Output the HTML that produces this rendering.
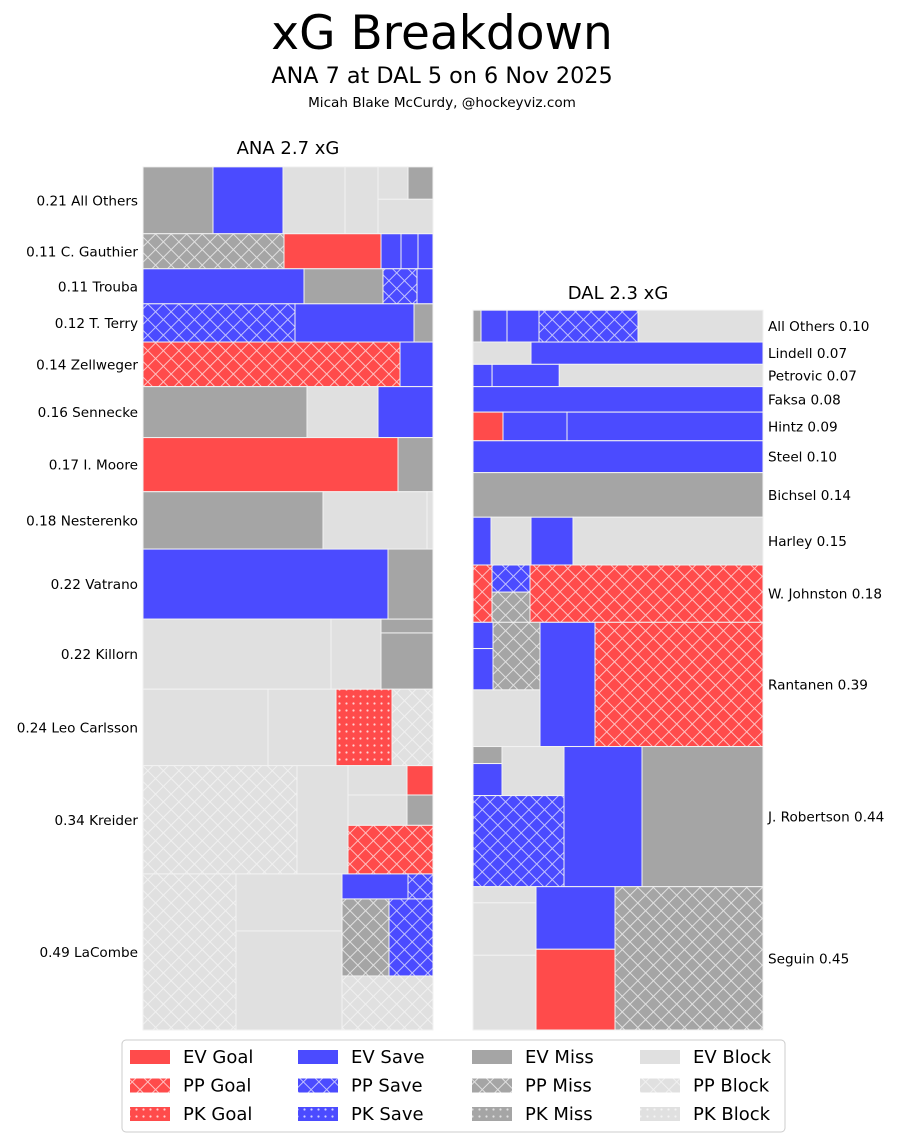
<!DOCTYPE html>
<html><head><meta charset="utf-8">
<style>
body{margin:0;background:#fff;}
svg text{font-family:"DejaVu Sans","Liberation Sans",sans-serif;fill:#000;}
</style></head>
<body>
<svg id="chart" width="900" height="1142" viewBox="0 0 900 1142" xmlns="http://www.w3.org/2000/svg">
<defs>
  <pattern id="hatch-r" width="11" height="11" patternUnits="userSpaceOnUse" patternTransform="rotate(45)"><rect width="11" height="11" fill="#ff4b4b"/><path d="M0 0V11M0 0H11" stroke="#ffc0c0" stroke-width="2"/></pattern>
  <pattern id="hatch-b" width="11" height="11" patternUnits="userSpaceOnUse" patternTransform="rotate(45)"><rect width="11" height="11" fill="#4b4bff"/><path d="M0 0V11M0 0H11" stroke="#c0c0ff" stroke-width="2"/></pattern>
  <pattern id="hatch-m" width="11" height="11" patternUnits="userSpaceOnUse" patternTransform="rotate(45)"><rect width="11" height="11" fill="#a5a5a5"/><path d="M0 0V11M0 0H11" stroke="#e0e0e0" stroke-width="2"/></pattern>
  <pattern id="hatch-l" width="11" height="11" patternUnits="userSpaceOnUse" patternTransform="rotate(45)"><rect width="11" height="11" fill="#e0e0e0"/><path d="M0 0V11M0 0H11" stroke="#f0f0f0" stroke-width="2"/></pattern>
  <pattern id="dot-r" width="7" height="7" patternUnits="userSpaceOnUse"><rect width="7" height="7" fill="#ff4b4b"/><circle cx="3.5" cy="3.5" r="1.1" fill="#ffd0d0"/></pattern>
  <pattern id="dot-b" width="7" height="7" patternUnits="userSpaceOnUse"><rect width="7" height="7" fill="#4b4bff"/><circle cx="3.5" cy="3.5" r="1.1" fill="#d0d0ff"/></pattern>
  <pattern id="dot-m" width="7" height="7" patternUnits="userSpaceOnUse"><rect width="7" height="7" fill="#a5a5a5"/><circle cx="3.5" cy="3.5" r="1.1" fill="#e0e0e0"/></pattern>
  <pattern id="dot-l" width="7" height="7" patternUnits="userSpaceOnUse"><rect width="7" height="7" fill="#e0e0e0"/><circle cx="3.5" cy="3.5" r="1.1" fill="#f4f4f4"/></pattern>
</defs>
<text x="442" y="49" font-size="47" text-anchor="middle">xG Breakdown</text>
<text x="442" y="83" font-size="22.3" text-anchor="middle">ANA 7 at DAL 5 on 6 Nov 2025</text>
<text x="442" y="107" font-size="13.6" text-anchor="middle">Micah Blake McCurdy, @hockeyviz.com</text>
<text x="288" y="154" font-size="18" text-anchor="middle">ANA 2.7 xG</text>
<text x="618" y="299" font-size="18" text-anchor="middle">DAL 2.3 xG</text>
<g id="ana"></g><g id="dal"></g>
<g id="legend"></g>
</svg>
<script>
// ANA data
const anaPlayers = ["All Others","C. Gauthier","Trouba","T. Terry","Zellweger","Sennecke","I. Moore","Nesterenko","Vatrano","Killorn","Leo Carlsson","Kreider","LaCombe"];
const anaXG = [0.21,0.11,0.11,0.12,0.14,0.16,0.17,0.18,0.22,0.22,0.24,0.34,0.49];
const anaCells = [
 ['h',[70,'EM'],[70,'ES'],[62,'EB'],[33,'EB'],[55,['v',[32,['h',[30,'EB'],[25,'EM']]],[34,'EB']]]],
 ['h',[141,'PM'],[97,'EG'],[20,'ES'],[17,'ES'],[15,'ES']],
 ['h',[161,'ES'],[79,'EM'],[34,'PS'],[16,'ES']],
 ['h',[152,'PS'],[119,'ES'],[19,'EM']],
 ['h',[257,'PG'],[33,'ES']],
 ['h',[164,'EM'],[71,'EB'],[55,'ES']],
 ['h',[255,'EG'],[35,'EM']],
 ['h',[180,'EM'],[104,'EB'],[6,'EB']],
 ['h',[245,'ES'],[45,'EM']],
 ['h',[188,'EB'],[50,'EB'],[52,['v',[14,'EM'],[57,'EM']]]],
 ['h',[125,'EB'],[68,'EB'],[56,'KG'],[41,'PB']],
 ['h',[154,'PB'],[51,'EB'],[85,['v',[29,['h',[59,'EB'],[26,'EG']]],[30,['h',[59,'EB'],[26,'EM']]],[48,'PG']]]],
 ['h',[93,'PB'],[106,['v',[57,'EB'],[99,'EB']]],[91,['v',[25,['h',[66,'ES'],[25,'PS']]],[77,['h',[47,'PM'],[44,'PS']]],[54,'PB']]]]
];
// DAL data
const dalPlayers = ["All Others","Lindell","Petrovic","Faksa","Hintz","Steel","Bichsel","Harley","W. Johnston","Rantanen","J. Robertson","Seguin"];
const dalXG = [0.10,0.07,0.07,0.08,0.09,0.10,0.14,0.15,0.18,0.39,0.44,0.45];
const dalCells = [
 ['h',[8,'EM'],[26,'ES'],[32,'ES'],[99,'PS'],[125,'EB']],
 ['h',[58,'EB'],[232,'ES']],
 ['h',[19,'ES'],[67,'ES'],[203,'EB']],
 ['h',[290,'ES']],
 ['h',[30,'EG'],[64,'ES'],[196,'ES']],
 ['h',[290,'ES']],
 ['h',[290,'EM']],
 ['h',[18,'ES'],[40,'EB'],[42,'ES'],[190,'EB']],
 ['h',[19,'PG'],[38,['v',[27,'PS'],[30,'PM']]],[233,'PG']],
 ['h',[67,['v',[68,['h',[20,['v',[26,'ES'],[41,'ES']]],[47,'PM']]],[57,'EB']]],[55,'ES'],[168,'PG']],
 ['h',[91,['v',[49,['h',[29,['v',[17,'EM'],[32,'ES']]],[62,'EB']]],[91,'PS']]],[78,'ES'],[121,'EM']],
 ['h',[63,['v',[16,'EB'],[52,'EB'],[74,'EB']]],[79,['v',[62,'ES'],[80,'EG']]],[148,'PM']]
];

const NS='http://www.w3.org/2000/svg';
const FILL={EG:'#ff4b4b',ES:'#4b4bff',EM:'#a5a5a5',EB:'#e0e0e0',
 PG:'url(#hatch-r)',PS:'url(#hatch-b)',PM:'url(#hatch-m)',PB:'url(#hatch-l)',
 KG:'url(#dot-r)',KS:'url(#dot-b)',KM:'url(#dot-m)',KB:'url(#dot-l)'};
const TNAME={EG:'ev-goal',ES:'ev-save',EM:'ev-miss',EB:'ev-block',PG:'pp-goal',PS:'pp-save',PM:'pp-miss',PB:'pp-block',KG:'pk-goal',KS:'pk-save',KM:'pk-miss',KB:'pk-block'};
const SCALE=318.5, BOTTOM=1030, PW=290;

function layout(g,node,x,y,w,h){
  if(typeof node==='string'){
    const r=document.createElementNS(NS,'rect');
    r.setAttribute('x',x);r.setAttribute('y',y);r.setAttribute('width',w);r.setAttribute('height',h);
    r.setAttribute('fill',FILL[node]);r.setAttribute('stroke','#f2f2f2');r.setAttribute('stroke-width','1');
    
    
    g.appendChild(r);return;
  }
  const dir=node[0],kids=node.slice(1);
  const tot=kids.reduce((s,k)=>s+k[0],0);
  let o=0;
  kids.forEach(k=>{
    const f=k[0]/tot;
    if(dir==='h') layout(g,k[1],x+o*w,y,f*w,h); else layout(g,k[1],x,y+o*h,w,f*h);
    o+=f;
  });
}
function panel(id,players,xg,cells,x0,left){
  const g=document.getElementById(id);
  
  
  const tot=xg.reduce((a,b)=>a+b,0);
  let y=BOTTOM-tot*SCALE;
  players.forEach((p,i)=>{
    const h=xg[i]*SCALE;
    const rg=document.createElementNS(NS,'g');
    
    
    layout(rg,cells[i],x0,y,PW,h);
    g.appendChild(rg);
    const t=document.createElementNS(NS,'text');
    t.setAttribute('font-size','13.6');
    t.setAttribute('y',y+h/2+5);
    if(left){t.setAttribute('x',x0-5);t.setAttribute('text-anchor','end');t.textContent=xg[i].toFixed(2)+' '+p;}
    else{t.setAttribute('x',x0+PW+5);t.textContent=p+' '+xg[i].toFixed(2);}
    
    
    g.appendChild(t);
    y+=h;
  });
}
panel('ana',anaPlayers,anaXG,anaCells,143,true);
panel('dal',dalPlayers,dalXG,dalCells,473,false);

// legend
const legendLabels=[['EV Goal','PP Goal','PK Goal'],['EV Save','PP Save','PK Save'],['EV Miss','PP Miss','PK Miss'],['EV Block','PP Block','PK Block']];
const legendTypes=[['EG','PG','KG'],['ES','PS','KS'],['EM','PM','KM'],['EB','PB','KB']];
const lg=document.getElementById('legend');
const box=document.createElementNS(NS,'rect');
box.setAttribute('x',122);box.setAttribute('y',1040);box.setAttribute('width',663);box.setAttribute('height',92);
box.setAttribute('rx',4);box.setAttribute('fill','#fff');box.setAttribute('stroke','#cccccc');


lg.appendChild(box);
const colX=[130,298,472,640];
legendLabels.forEach((col,c)=>col.forEach((lab,r)=>{
  const yy=1050+r*28.5;
  const s=document.createElementNS(NS,'rect');
  s.setAttribute('x',colX[c]);s.setAttribute('y',yy);s.setAttribute('width',40);s.setAttribute('height',14);
  s.setAttribute('fill',FILL[legendTypes[c][r]]);
  
  
  lg.appendChild(s);
  const t=document.createElementNS(NS,'text');
  t.setAttribute('x',colX[c]+53);t.setAttribute('y',yy+13);t.setAttribute('font-size','18');
  t.textContent=lab;
  
  
  lg.appendChild(t);
}));
</script>
</body></html>
